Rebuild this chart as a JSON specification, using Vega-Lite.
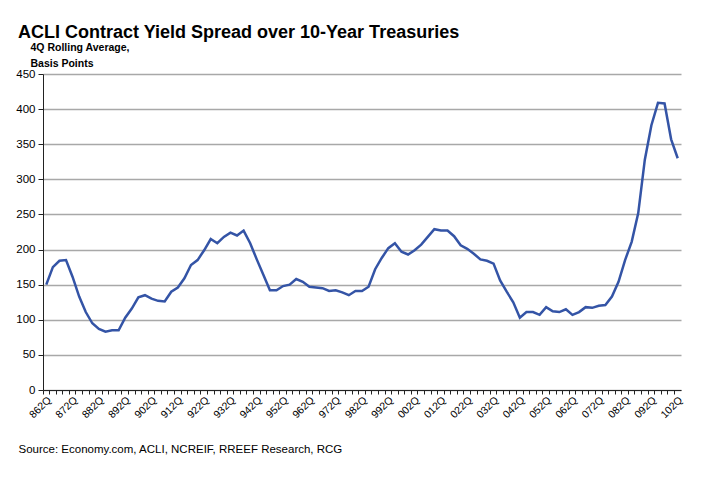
{
  "$schema": "https://vega.github.io/schema/vega-lite/v6.json",
  "width": 638,
  "height": 316,
  "autosize": {"type": "none"},
  "padding": {"left": 43, "top": 74, "right": 32, "bottom": 112},
  "background": "white",
  "title": {
    "text": "ACLI Contract Yield Spread over 10-Year Treasuries",
    "anchor": "start",
    "frame": "group",
    "dx": -25,
    "offset": -14,
    "baseline": "alphabetic",
    "font": "Liberation Sans",
    "fontSize": 18,
    "fontWeight": "bold",
    "color": "black"
  },
  "data": {
    "values": [
      {"q": "862Q", "v": 150}, {"q": "863Q", "v": 175}, {"q": "864Q", "v": 184},
      {"q": "871Q", "v": 185}, {"q": "872Q", "v": 161}, {"q": "873Q", "v": 133}, {"q": "874Q", "v": 111},
      {"q": "881Q", "v": 95}, {"q": "882Q", "v": 87}, {"q": "883Q", "v": 83}, {"q": "884Q", "v": 85},
      {"q": "891Q", "v": 85}, {"q": "892Q", "v": 103}, {"q": "893Q", "v": 116}, {"q": "894Q", "v": 132},
      {"q": "901Q", "v": 135}, {"q": "902Q", "v": 130}, {"q": "903Q", "v": 127}, {"q": "904Q", "v": 126},
      {"q": "911Q", "v": 140}, {"q": "912Q", "v": 146}, {"q": "913Q", "v": 159}, {"q": "914Q", "v": 178},
      {"q": "921Q", "v": 185}, {"q": "922Q", "v": 199}, {"q": "923Q", "v": 215}, {"q": "924Q", "v": 209},
      {"q": "931Q", "v": 218}, {"q": "932Q", "v": 224}, {"q": "933Q", "v": 220}, {"q": "934Q", "v": 227},
      {"q": "941Q", "v": 209}, {"q": "942Q", "v": 186}, {"q": "943Q", "v": 164}, {"q": "944Q", "v": 142},
      {"q": "951Q", "v": 142}, {"q": "952Q", "v": 148}, {"q": "953Q", "v": 150}, {"q": "954Q", "v": 158},
      {"q": "961Q", "v": 154}, {"q": "962Q", "v": 147}, {"q": "963Q", "v": 146}, {"q": "964Q", "v": 145},
      {"q": "971Q", "v": 141}, {"q": "972Q", "v": 142}, {"q": "973Q", "v": 139}, {"q": "974Q", "v": 135},
      {"q": "981Q", "v": 141}, {"q": "982Q", "v": 141}, {"q": "983Q", "v": 147}, {"q": "984Q", "v": 172},
      {"q": "991Q", "v": 188}, {"q": "992Q", "v": 202}, {"q": "993Q", "v": 209}, {"q": "994Q", "v": 197},
      {"q": "001Q", "v": 193}, {"q": "002Q", "v": 199}, {"q": "003Q", "v": 207}, {"q": "004Q", "v": 218},
      {"q": "011Q", "v": 229}, {"q": "012Q", "v": 227}, {"q": "013Q", "v": 227}, {"q": "014Q", "v": 219},
      {"q": "021Q", "v": 206}, {"q": "022Q", "v": 201}, {"q": "023Q", "v": 194}, {"q": "024Q", "v": 186},
      {"q": "031Q", "v": 184}, {"q": "032Q", "v": 180}, {"q": "033Q", "v": 156}, {"q": "034Q", "v": 140},
      {"q": "041Q", "v": 125}, {"q": "042Q", "v": 103}, {"q": "043Q", "v": 111}, {"q": "044Q", "v": 111},
      {"q": "051Q", "v": 107}, {"q": "052Q", "v": 118}, {"q": "053Q", "v": 112}, {"q": "054Q", "v": 111},
      {"q": "061Q", "v": 115}, {"q": "062Q", "v": 107}, {"q": "063Q", "v": 111}, {"q": "064Q", "v": 118},
      {"q": "071Q", "v": 117}, {"q": "072Q", "v": 120}, {"q": "073Q", "v": 121}, {"q": "074Q", "v": 133},
      {"q": "081Q", "v": 154}, {"q": "082Q", "v": 185}, {"q": "083Q", "v": 211}, {"q": "084Q", "v": 252},
      {"q": "091Q", "v": 328}, {"q": "092Q", "v": 377}, {"q": "093Q", "v": 409}, {"q": "094Q", "v": 408},
      {"q": "101Q", "v": 357}, {"q": "102Q", "v": 330}
    ]
  },
  "mark": {"type": "line", "color": "#3454a6", "strokeWidth": 2.5},
  "encoding": {
    "x": {
      "field": "q",
      "type": "ordinal",
      "sort": null,
      "bandPosition": 0.5,
      "scale": {"type": "band", "paddingInner": 0, "paddingOuter": 0},
      "axis": {
        "bandPosition": 0,
        "labelExpr": "slice(datum.label, 2, 3) == '2' ? datum.label : ''",
        "labelAngle": -45,
        "labelAlign": "right",
        "labelBaseline": "middle",
        "labelOffset": 3.3,
        "labelPadding": 4,
        "labelOverlap": false,
        "labelFlush": false,
        "labelBound": false,
        "labelFont": "Liberation Sans",
        "labelFontSize": 10.5,
        "labelColor": "black",
        "tickSize": 4,
        "tickColor": "#222",
        "domainColor": "#222",
        "grid": false,
        "title": "Source:  Economy.com, ACLI, NCREIF, RREEF Research, RCG",
        "titleX": -25,
        "titleY": 62,
        "titleAlign": "left",
        "titleAnchor": "start",
        "titleAngle": 0,
        "titleBaseline": "alphabetic",
        "titleFont": "Liberation Sans",
        "titleFontSize": 11.5,
        "titleFontWeight": "normal",
        "titleColor": "black"
      }
    },
    "y": {
      "field": "v",
      "type": "quantitative",
      "scale": {"domain": [0, 450], "nice": false},
      "axis": {
        "values": [0, 50, 100, 150, 200, 250, 300, 350, 400, 450],
        "title": ["4Q Rolling Average,", "Basis Points"],
        "titleAngle": 0,
        "titleAlign": "left",
        "titleBaseline": "alphabetic",
        "titleX": -13,
        "titleY": -24,
        "titleLineHeight": 16,
        "titleFont": "Liberation Sans",
        "titleFontSize": 10.5,
        "titleFontWeight": "bold",
        "titleColor": "black",
        "labelFont": "Liberation Sans",
        "labelFontSize": 11.5,
        "labelColor": "black",
        "labelPadding": 3,
        "tickSize": 5,
        "tickColor": "#222",
        "domainColor": "#222",
        "gridColor": "#a8a8a8",
        "gridWidth": 1.3
      }
    }
  },
  "config": {"view": {"stroke": null}}
}
